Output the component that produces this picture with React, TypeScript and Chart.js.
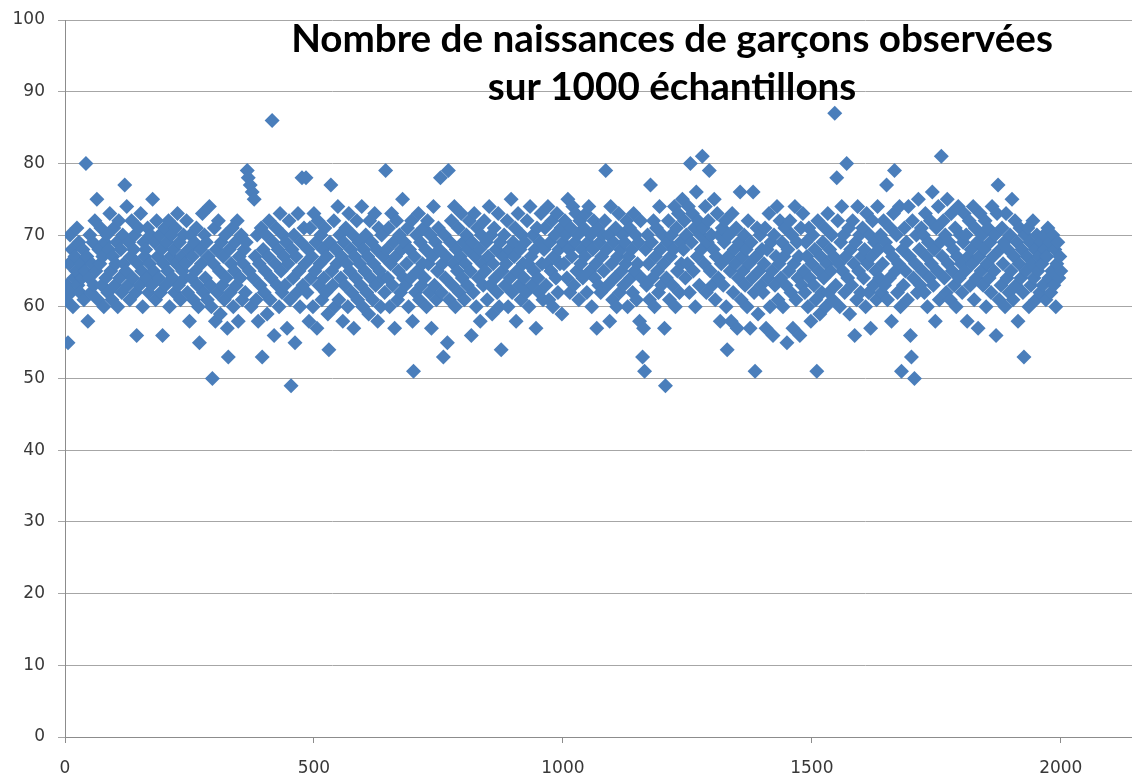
import React, { useEffect, useRef } from 'react';
import { Chart, registerables } from 'chart.js';

Chart.register(...registerables);

const TITLE_LINES = ['Nombre de naissances de garçons observées', 'sur 1000 échantillons'];
const X_TICKS = [0, 500, 1000, 1500, 2000];
const Y_TICKS = [0, 10, 20, 30, 40, 50, 60, 70, 80, 90, 100];
const SAMPLE_STEP = 2;

// Number of boys born in each of the 1000 samples (read / estimated from the picture)
const births = [
  61, 63, 55, 66, 70, 62, 68, 60, 64, 67, 65, 71, 63, 69, 62, 66, 64, 68, 61, 65,
  80, 67, 58, 64, 70, 62, 66, 69, 63, 72, 65, 75, 61, 68, 66, 71, 63, 67, 60, 69,
  64, 70, 62, 68, 73, 65, 61, 67, 71, 63, 66, 69, 60, 72, 64, 68, 62, 70, 66, 77,
  65, 74, 63, 69, 61, 67, 72, 64, 68, 70, 62, 56, 66, 71, 63, 73, 65, 60, 69, 67,
  68, 64, 71, 62, 66, 70, 63, 75, 65, 69, 61, 72, 67, 64, 70, 62, 68, 56, 66, 71,
  63, 69, 65, 72, 60, 67, 70, 64, 68, 62, 71, 66, 73, 63, 69, 61, 67, 65, 70, 64,
  66, 72, 62, 68, 58, 70, 64, 67, 61, 69, 65, 71, 63, 60, 55, 68, 66, 73, 62, 70,
  64, 69, 61, 67, 74, 63, 60, 50, 66, 71, 58, 68, 62, 72, 65, 59, 69, 63, 67, 61,
  70, 64, 57, 53, 68, 62, 66, 71, 60, 65, 69, 63, 72, 58, 67, 64, 70, 61, 66, 68,
  62, 69, 79, 78, 65, 77, 60, 76, 64, 75, 67, 61, 70, 58, 66, 63, 71, 53, 68, 62,
  65, 70, 59, 67, 72, 61, 64, 86, 69, 56, 66, 71, 63, 68, 60, 73, 65, 62, 70, 67,
  63, 69, 57, 66, 72, 61, 49, 68, 64, 70, 55, 67, 62, 73, 65, 60, 69, 78, 63, 71,
  66, 78, 62, 68, 58, 71, 64, 67, 60, 73, 65, 69, 57, 72, 63, 66, 70, 61, 68, 64,
  71, 62, 67, 59, 54, 69, 77, 65, 63, 72, 60, 68, 66, 74, 61, 70, 64, 67, 58, 69,
  63, 71, 66, 60, 73, 65, 68, 62, 70, 57, 67, 64, 72, 61, 69, 66, 63, 74, 60, 68,
  65, 70, 62, 67, 59, 72, 64, 69, 61, 66, 73, 63, 68, 58, 71, 65, 60, 70, 64, 67,
  62, 79, 68, 64, 71, 60, 66, 73, 63, 69, 57, 67, 72, 61, 65, 70, 62, 68, 75, 64,
  69, 63, 66, 71, 60, 68, 64, 72, 58, 51, 67, 62, 70, 65, 73, 61, 69, 63, 66, 71,
  64, 68, 60, 72, 66, 62, 70, 57, 67, 74, 63, 69, 61, 65, 71, 68, 78, 62, 66, 53,
  70, 64, 67, 55, 79, 61, 69, 72, 63, 66, 74, 60, 68, 65, 71, 62, 67, 73, 64, 69,
  61, 66, 70, 63, 68, 72, 65, 56, 69, 62, 73, 67, 60, 71, 64, 68, 58, 70, 66, 63,
  72, 65, 69, 61, 67, 74, 63, 70, 59, 66, 71, 64, 68, 62, 73, 60, 69, 54, 65, 67,
  70, 63, 66, 72, 60, 68, 64, 75, 62, 69, 67, 71, 58, 65, 73, 63, 68, 61, 70, 66,
  64, 69, 62, 72, 66, 60, 74, 67, 63, 70, 65, 68, 57, 71, 64, 62, 69, 73, 66, 61,
  68, 71, 63, 66, 74, 61, 69, 65, 72, 60, 67, 70, 64, 73, 62, 68, 66, 71, 59, 69,
  66, 72, 70, 64, 75, 68, 62, 71, 67, 74, 63, 69, 73, 65, 70, 61, 72, 66, 68, 64,
  71, 67, 73, 62, 69, 74, 65, 70, 60, 68, 72, 64, 66, 57, 71, 63, 69, 62, 67, 70,
  65, 72, 79, 68, 63, 70, 58, 74, 66, 61, 69, 64, 71, 60, 67, 73, 62, 68, 65, 70,
  63, 69, 66, 72, 60, 67, 71, 64, 68, 62, 73, 65, 70, 61, 66, 69, 58, 72, 64, 53,
  57, 51, 68, 63, 70, 66, 61, 77, 69, 64, 72, 60, 67, 71, 65, 62, 74, 68, 63, 70,
  66, 57, 49, 64, 69, 72, 61, 67, 70, 63, 68, 74, 60, 71, 65, 73, 62, 69, 66, 75,
  68, 72, 64, 70, 66, 74, 62, 80, 69, 73, 65, 71, 60, 76, 67, 72, 63, 70, 68, 81,
  71, 66, 74, 62, 69, 72, 79, 65, 70, 63, 68, 75, 61, 67, 73, 64, 70, 58, 66, 71,
  63, 69, 72, 60, 54, 67, 70, 65, 58, 73, 62, 68, 66, 71, 57, 64, 69, 76, 61, 67,
  65, 70, 63, 68, 60, 72, 66, 57, 69, 64, 76, 62, 51, 67, 71, 59, 65, 70, 63, 68,
  62, 66, 71, 57, 68, 64, 73, 60, 69, 65, 56, 70, 63, 67, 74, 61, 66, 72, 64, 69,
  60, 67, 71, 63, 55, 68, 65, 72, 62, 70, 57, 66, 74, 61, 69, 64, 67, 56, 71, 63,
  73, 65, 62, 69, 67, 60, 71, 64, 58, 66, 70, 63, 68, 61, 51, 72, 65, 59, 67, 62,
  69, 64, 71, 60, 66, 73, 62, 68, 65, 70, 61, 67, 87, 63, 78, 72, 66, 60, 69, 74,
  65, 70, 62, 67, 80, 64, 71, 59, 68, 63, 72, 66, 56, 69, 61, 74, 65, 70, 62, 67,
  71, 64, 68, 60, 73, 66, 62, 70, 57, 67, 72, 63, 69, 65, 61, 74, 68, 64, 70, 62,
  66, 72, 63, 69, 77, 61, 68, 64, 71, 58, 67, 73, 79, 65, 70, 62, 66, 74, 60, 51,
  68, 63, 71, 65, 69, 61, 74, 67, 56, 53, 72, 64, 50, 66, 70, 62, 75, 68, 63, 71,
  65, 70, 62, 73, 67, 60, 69, 64, 72, 66, 76, 63, 68, 58, 71, 65, 74, 61, 69, 81,
  67, 72, 64, 70, 62, 75, 66, 69, 61, 73, 65, 68, 63, 71, 60, 67, 74, 64, 70, 66,
  62, 69, 73, 65, 70, 58, 67, 72, 63, 68, 66, 74, 61, 71, 64, 69, 57, 67, 73, 65,
  70, 63, 68, 72, 60, 66, 71, 64, 69, 62, 74, 67, 65, 70, 56, 73, 77, 61, 68, 63,
  71, 66, 69, 60, 73, 64, 68, 62, 70, 65, 75, 61, 67, 72, 63, 69, 58, 66, 71, 64,
  68, 62, 53, 70, 65, 67, 71, 60, 69, 63, 66, 72, 64, 68, 61, 70, 65, 67, 62, 69,
  66, 63, 70, 68, 61, 67, 71, 64, 69, 62, 65, 70, 63, 68, 60, 66, 69, 64, 67, 65,
];

const titlePlugin = {
  id: 'insideTitle',
  afterDatasetsDraw(chart: any) {
    const ctx = chart.ctx as CanvasRenderingContext2D;
    ctx.save();
    const targetWidth = 762;
    let size = 34;
    ctx.font = `bold ${size}px Lato`;
    const w = ctx.measureText(TITLE_LINES[0]).width;
    size = size * targetWidth / w;
    ctx.font = `bold ${size}px Lato`;
    ctx.fillStyle = '#000000';
    ctx.textAlign = 'center';
    ctx.textBaseline = 'alphabetic';
    const cx = 672;
    ctx.fillText(TITLE_LINES[0], cx, 52);
    ctx.fillText(TITLE_LINES[1], cx, 100);
    ctx.restore();
  },
};

export default function App() {
  const canvasRef = useRef<HTMLCanvasElement | null>(null);

  useEffect(() => {
    document.body.style.margin = '0';
    const canvas = canvasRef.current;
    if (!canvas) return;
    const points = births.map((v, i) => ({ x: (i + 1) * SAMPLE_STEP, y: v }));
    const tickFont = { family: 'DejaVu Sans', size: 17 };
    const chart = new Chart(canvas, {
      type: 'scatter',
      data: {
        datasets: [
          {
            label: 'Naissances de garçons',
            data: points,
            pointStyle: 'rectRot',
            pointRadius: 7.5,
            pointHoverRadius: 7.5,
            backgroundColor: '#4a7ebb',
            borderColor: '#4a7ebb',
            borderWidth: 0,
          },
        ],
      },
      options: {
        animation: false,
        responsive: false,
        layout: { autoPadding: false, padding: { top: 20, right: 0, bottom: 0, left: 0 } },
        plugins: {
          legend: { display: false },
          title: { display: false },
          tooltip: { enabled: false },
        },
        scales: {
          x: {
            type: 'linear',
            min: 0,
            max: 2143,
            afterBuildTicks: (s: any) => {
              s.ticks = X_TICKS.map((v) => ({ value: v }));
            },
            afterFit: (s: any) => {
              s.height = 44;
              s.paddingRight = 0;
              s.paddingLeft = 0;
            },
            grid: {
              display: true,
              drawOnChartArea: false,
              drawTicks: true,
              tickLength: 6,
              color: '#8c8c8c',
            },
            border: { display: true, color: '#8c8c8c', width: 1 },
            ticks: {
              font: tickFont,
              color: '#383838',
              padding: 15,
              maxRotation: 0,
              autoSkip: false,
              callback: (v: any) => String(v),
            },
          },
          y: {
            type: 'linear',
            min: 0,
            max: 100,
            afterBuildTicks: (s: any) => {
              s.ticks = Y_TICKS.map((v) => ({ value: v }));
            },
            afterFit: (s: any) => {
              s.width = 65;
              s.paddingTop = 0;
              s.paddingBottom = 0;
            },
            grid: {
              display: true,
              drawOnChartArea: true,
              drawTicks: true,
              tickLength: 7,
              color: '#a6a6a6',
            },
            border: { display: true, color: '#8c8c8c', width: 1 },
            ticks: {
              font: tickFont,
              color: '#383838',
              padding: 13,
              autoSkip: false,
              callback: (v: any) => String(v),
            },
          },
        },
      },
      plugins: [titlePlugin],
    });
    return () => chart.destroy();
  }, []);

  return (
    <div style={{ width: 1132, height: 781 }}>
      <canvas ref={canvasRef} width={1132} height={781} style={{ display: 'block' }} />
    </div>
  );
}
